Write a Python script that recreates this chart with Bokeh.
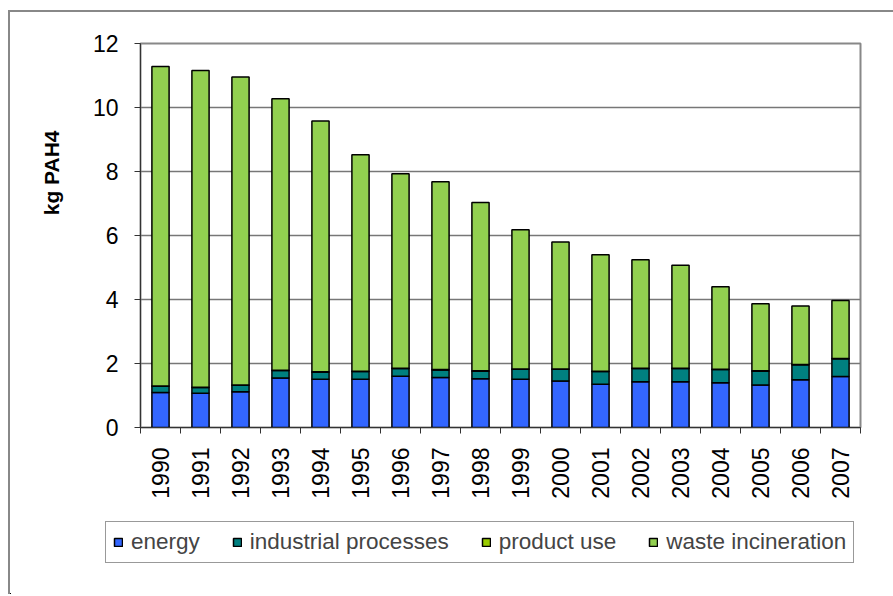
import math
from bokeh.plotting import figure
from bokeh.layouts import column
from bokeh.models import ColumnDataSource, FixedTicker, Legend, LegendItem, Range1d, Title
from bokeh.embed import file_html
from bokeh.resources import INLINE

years = [str(y) for y in range(1990, 2008)]
energy = [1.09, 1.07, 1.12, 1.55, 1.51, 1.51, 1.60, 1.56, 1.52, 1.51, 1.45, 1.35, 1.43, 1.43, 1.40, 1.33, 1.49, 1.59]
industrial = [0.20, 0.18, 0.20, 0.23, 0.22, 0.24, 0.24, 0.24, 0.24, 0.31, 0.37, 0.40, 0.41, 0.41, 0.41, 0.43, 0.47, 0.56]
product_use = [0.01] * 18
waste = [9.98, 9.90, 9.62, 8.48, 7.84, 6.76, 6.08, 5.87, 5.26, 4.35, 3.97, 3.64, 3.39, 3.22, 2.58, 2.10, 1.83, 1.81]
series = ["energy", "industrial processes", "product use", "waste incineration"]
colors = ["#3366FF", "#008080", "#99CC00", "#92D050"]
y_ticks = [0, 2, 4, 6, 8, 10, 12]

FONT = "Liberation Sans"
keys = ["energy", "industrial", "product_use", "waste"]

xs = list(range(len(years)))
src = ColumnDataSource(dict(x=xs, energy=energy, industrial=industrial,
                            product_use=product_use, waste=waste))

p = figure(width=883, height=500, output_backend="svg", toolbar_location=None,
           x_range=Range1d(-0.5, len(years) - 0.5), y_range=Range1d(0, 12),
           min_border_left=129, min_border_right=33, min_border_top=31,
           min_border_bottom=85)
p.frame_align = False

p.vbar_stack(keys, x="x", width=0.43, source=src, color=colors,
             line_color="black", line_width=1.5)

p.xaxis.ticker = FixedTicker(ticks=xs, minor_ticks=[i - 0.5 for i in range(len(years) + 1)])
p.xaxis.major_label_overrides = {i: y for i, y in enumerate(years)}
p.xaxis.major_label_orientation = math.pi / 2
p.xaxis.major_tick_out = 0
p.xaxis.major_tick_in = 0
p.xaxis.minor_tick_out = 6
p.xaxis.minor_tick_in = 0
p.xaxis.major_label_standoff = 14
p.xaxis.major_label_text_font = FONT
p.xaxis.major_label_text_font_size = "23px"
p.xaxis.major_label_text_color = "black"
p.xaxis.axis_line_color = "#333333"
p.xaxis.minor_tick_line_color = "#333333"

p.yaxis.ticker = FixedTicker(ticks=y_ticks)
p.yaxis.minor_tick_line_color = None
p.yaxis.major_tick_out = 6
p.yaxis.major_tick_in = 0
p.yaxis.major_label_standoff = 16
p.yaxis.major_label_text_font = FONT
p.yaxis.major_label_text_font_size = "23px"
p.yaxis.major_label_text_color = "black"
p.yaxis.axis_line_color = "#333333"
p.yaxis.major_tick_line_color = "#333333"

p.add_layout(Title(text="kg PAH4", align="right", offset=87, standoff=54,
                   text_font=FONT, text_font_style="bold", text_font_size="21px",
                   text_color="black"), "left")

p.xgrid.grid_line_color = None
p.ygrid.ticker = FixedTicker(ticks=y_ticks)
p.ygrid.grid_line_color = "#777777"
p.ygrid.grid_line_width = 1.5

p.outline_line_color = "#888888"
p.outline_line_width = 2

# legend-only strip below the chart (its bars lie outside its ranges)
lg = figure(width=883, height=82, output_backend="svg", toolbar_location=None,
            x_range=Range1d(100, 101), y_range=Range1d(100, 101),
            x_axis_type=None, y_axis_type=None, min_border=0)
lg.frame_align = False
lg.outline_line_color = None
lg.grid.grid_line_color = None
lrs = lg.vbar_stack(keys, x="x", width=0.43, source=src, color=colors,
                    line_color="black", line_width=1.5)
items = [LegendItem(label=s, renderers=[r]) for s, r in zip(series, lrs)]
legend = Legend(items=items, orientation="horizontal", location=(95, 31),
                label_text_font=FONT, label_text_font_size="22.5px",
                glyph_width=10, glyph_height=10, label_standoff=8, spacing=32,
                padding=7, margin=0, border_line_color="#333333", border_line_width=1.5,
                background_fill_alpha=1)
lg.add_layout(legend, "center")

layout = column(p, lg, spacing=0)
layout.margin = (10, 0, 0, 8)
layout.styles = {"border-top": "2px solid #888888", "border-left": "2px solid #888888"}

open("out.html", "w").write(file_html(layout, INLINE))
